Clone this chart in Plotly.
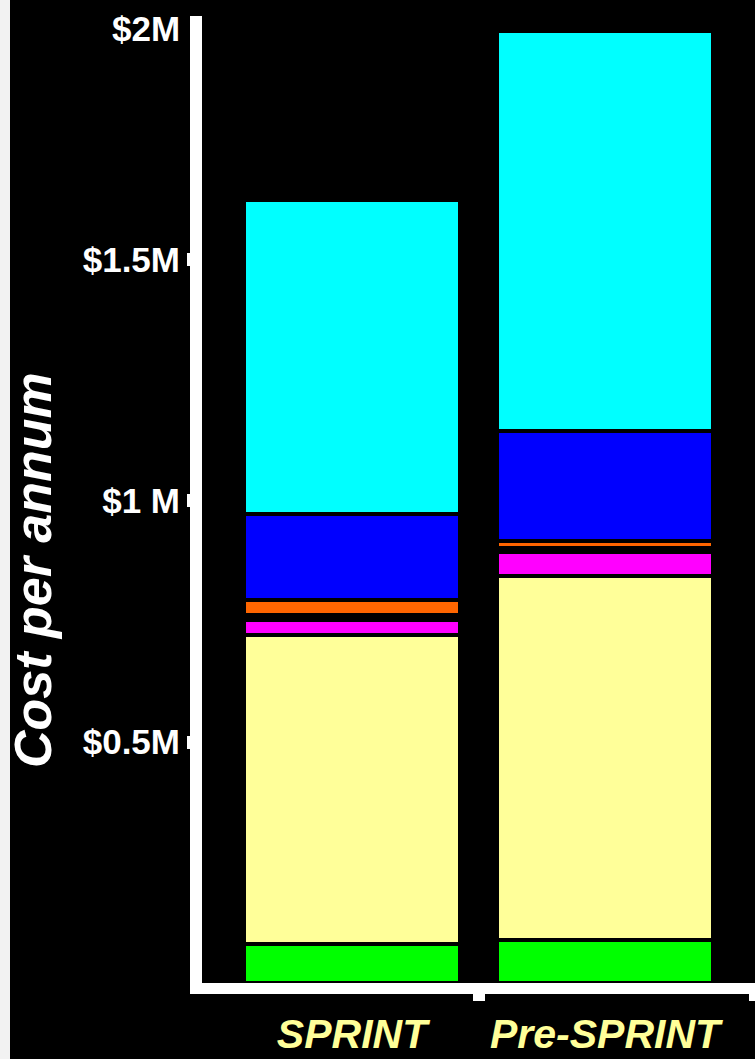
import numpy as np
import plotly.graph_objects as go

# ---- data (values in $ per annum) ----
categories = ["SPRINT", "Pre-SPRINT"]
series_names = ["Green", "Yellow", "Magenta", "Unlabelled", "Orange", "Blue", "Cyan"]
green = [80000, 89000]
yellow = [643000, 756000]
magenta = [31000, 49000]
unlabelled = [9000, 8000]
orange = [32000, 16000]
blue = [179000, 227000]
cyan = [651000, 831000]
y_tick_values = [500000, 1000000, 1500000, 2000000]
y_tick_labels = ["$0.5M", "$1 M", "$1.5M", "$2M"]
y_title = "Cost per annum"

series_values = [green, yellow, magenta, unlabelled, orange, blue, cyan]
colors = ["#00FF00", "#FFFF99", "#FF00FF", "#000000", "#FF6600", "#0000FF", "#00FFFF"]

# ---- layout constants ----
W, H = 755, 1059
L, R, T, B = 202, 0, 16, 76
PW, PH = W - L - R, H - T - B
BAR_SHIFT = np.array([0.0425, -0.0425])
BAR_WIDTH = 0.781
YMAX = 2006200
FONT = "Liberation Sans, Arial, sans-serif"

idx = np.arange(len(categories))
xpos = idx + BAR_SHIFT

fig = go.Figure()
for name, vals, col in zip(series_names, series_values, colors):
    fig.add_trace(go.Bar(
        x=xpos, y=vals, name=name, width=BAR_WIDTH,
        marker=dict(color=col, line=dict(color="#000000", width=4)),
        hovertext=categories,
    ))

# light strip at the far left (slide edge)
fig.add_shape(type="rect", xref="paper", yref="paper",
              x0=-L / PW, x1=(10 - L) / PW, y0=-B / PH, y1=1 + T / PH,
              fillcolor="#F2F2F2", line=dict(width=0), layer="below")

# $2M label sits slightly below its value in the original
fig.add_annotation(x=0, xref="paper", y=y_tick_values[-1], yref="y",
                   text=y_tick_labels[-1], showarrow=False,
                   xanchor="right", yanchor="middle", xshift=-20, yshift=-10,
                   font=dict(family=FONT, size=35, color="white", weight="bold"))

# y axis title
fig.add_annotation(x=(33 - L) / PW, xref="paper", y=(983 - 570) / PH, yref="paper",
                   text=y_title, showarrow=False, textangle=-90,
                   xanchor="center", yanchor="middle",
                   font=dict(family=FONT, size=52, color="white", weight="bold", style="italic"))

fig.update_layout(
    width=W, height=H,
    margin=dict(l=L, r=R, t=T, b=B, pad=0, autoexpand=False),
    paper_bgcolor="#000000", plot_bgcolor="#000000",
    barmode="stack", bargap=0, showlegend=False,
    xaxis=dict(
        type="linear", range=[-0.5, len(categories) - 0.5], automargin=False,
        tickmode="array", tickvals=list(xpos), ticktext=categories,
        ticks="", showgrid=False, zeroline=False,
        showline=True, linecolor="white", linewidth=11,
        tickfont=dict(family=FONT, size=41, color="#FFFF99", weight="bold", style="italic"),
        ticklabelstandoff=5,
        minor=dict(tickmode="array", tickvals=list(idx[:-1] + 0.5) + [len(categories) - 0.5],
                   ticks="outside", ticklen=7, tickwidth=12, tickcolor="white", showgrid=False),
    ),
    yaxis=dict(
        range=[0, YMAX], automargin=False,
        tickmode="array", tickvals=y_tick_values[:-1], ticktext=y_tick_labels[:-1],
        ticks="outside", ticklen=3, tickwidth=13, tickcolor="white",
        showgrid=False, zeroline=False,
        showline=True, linecolor="white", linewidth=12,
        tickfont=dict(family=FONT, size=35, color="white", weight="bold"),
    ),
)

fig.write_html("out.html")
